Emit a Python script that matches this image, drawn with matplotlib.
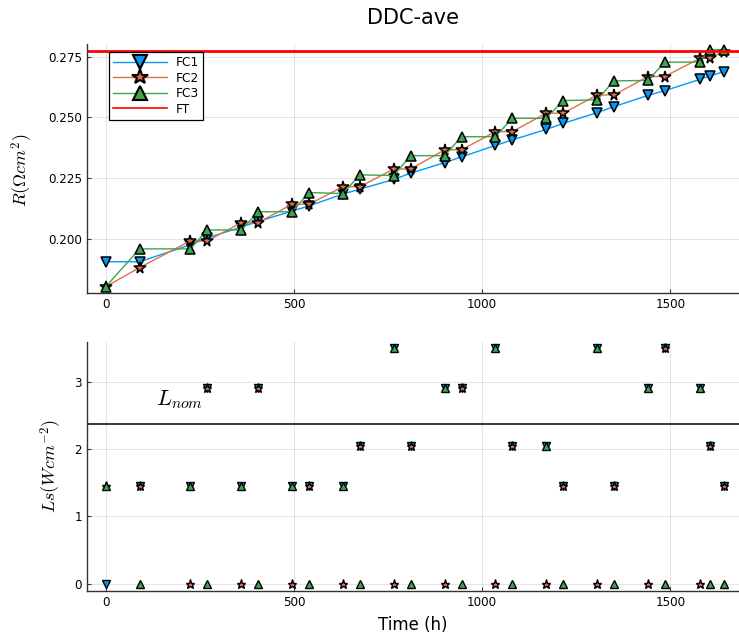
import matplotlib
# headless backend
matplotlib.use('Agg')
import matplotlib.pyplot as plt
from matplotlib.lines import Line2D

plt.rcParams['font.family'] = ['DejaVu Sans']
plt.rcParams['mathtext.fontset'] = 'cm'

# sample times (h)
times = [0, 90, 225, 270, 360, 405, 495, 540, 630, 675, 765, 810, 900, 945,
         1035, 1080, 1170, 1215, 1305, 1350, 1440, 1485, 1578, 1604, 1641]

# resistance R (Ohm cm^2)
r_fc1 = [0.1905, 0.1905, 0.1975, 0.2003, 0.2048, 0.2071, 0.2114, 0.2135, 0.2184,
         0.2204, 0.2244, 0.2270, 0.2313, 0.2337, 0.2384, 0.2407, 0.2450, 0.2475,
         0.2519, 0.2544, 0.2590, 0.2610, 0.2656, 0.2670, 0.2688]
r_fc2 = [0.1802, 0.1881, 0.1991, 0.1991, 0.2066, 0.2066, 0.2142, 0.2142, 0.2214,
         0.2214, 0.2287, 0.2287, 0.2366, 0.2366, 0.2441, 0.2441, 0.2517, 0.2517,
         0.2592, 0.2592, 0.2668, 0.2668, 0.2743, 0.2743, 0.2771]
r_fc3 = [0.1802, 0.1958, 0.1958, 0.2036, 0.2036, 0.2111, 0.2111, 0.2190, 0.2186,
         0.2263, 0.2260, 0.2342, 0.2342, 0.2420, 0.2420, 0.2496, 0.2496, 0.2569,
         0.2572, 0.2650, 0.2652, 0.2727, 0.2728, 0.2778, 0.2778]
r_ft = 0.2775

# load Ls (W cm^-2)
ls_fc1 = [0, 1.45, 1.45, 2.9, 1.45, 2.9, 1.45, 1.45, 1.45, 2.05, 3.5, 2.05, 2.9,
          2.9, 3.5, 2.05, 2.05, 1.45, 3.5, 1.45, 2.9, 3.5, 2.9, 2.05, 1.45]
ls_fc2 = [1.45, 1.45, 0, 2.9, 0, 2.9, 0, 1.45, 0, 2.05, 0, 2.05, 0, 2.9, 0, 2.05,
          0, 1.45, 0, 1.45, 0, 3.5, 0, 2.05, 1.45]
ls_fc3 = [1.45, 0, 1.45, 0, 1.45, 0, 1.45, 0, 1.45, 0, 3.5, 0, 2.9, 0, 3.5, 0,
          2.05, 0, 3.5, 0, 2.9, 0, 2.9, 0, 0]
l_nom = 2.378

series_names = ['FC1', 'FC2', 'FC3']
colors = ['#009AFA', '#E36F47', '#3EA44E']
markers = ['v', '*', '^']
top_ms = [7.5, 8.5, 7.5]
bot_ms = [5.5, 6.5, 5.5]

W, H = 739, 639
fig = plt.figure(figsize=(W / 100, H / 100), dpi=100)
ax1 = fig.add_axes([87 / W, 1 - 293.3 / H, 652 / W, 249.3 / H])
ax2 = fig.add_axes([87 / W, 1 - 590.7 / H, 652 / W, 249 / H])


def style_axis(ax):
    for side in ['top', 'right']:
        ax.spines[side].set_visible(False)
    for side in ['left', 'bottom']:
        ax.spines[side].set_linewidth(1.0)
        ax.spines[side].set_color('#333333')
    ax.grid(True, color='black', alpha=0.1, linewidth=0.8)
    ax.set_axisbelow(True)
    ax.tick_params(direction='in', length=3, width=0.8, labelsize=8.6,
                   colors='#333333', labelcolor='black')
    ax.set_xlim(-49.7, 1682)
    ax.set_xticks([0, 500, 1000, 1500])


# --- top: resistance ---
for vals, c, m, ms in zip([r_fc1, r_fc2, r_fc3], colors, markers, top_ms):
    ax1.plot(times, vals, color=c, lw=1.0, marker=m, ms=ms,
             markeredgecolor='black', markeredgewidth=1.1)
ax1.axhline(r_ft, color='red', lw=2.0)
style_axis(ax1)
ax1.set_ylim(0.1775, 0.2802)
ax1.set_yticks([0.200, 0.225, 0.250, 0.275])
ax1.set_yticklabels(['0.200', '0.225', '0.250', '0.275'])

handles = [Line2D([], [], color=c, lw=1.0, marker=m, ms=ms * 1.35,
                  markeredgecolor='black', markeredgewidth=1.5)
           for c, m, ms in zip(colors, markers, top_ms)]
handles.append(Line2D([], [], color='red', lw=1.2))
leg = ax1.legend(handles, series_names + ['FT'], loc='upper left',
                 bbox_to_anchor=(0.034, 0.968), borderaxespad=0,
                 fontsize=8.8, fancybox=False, framealpha=1,
                 edgecolor='black', handlelength=4.4, handletextpad=0.7,
                 labelspacing=0.2, borderpad=0.35)
leg.get_frame().set_linewidth(0.9)

# --- bottom: load ---
for vals, c, m, ms in zip([ls_fc1, ls_fc2, ls_fc3], colors, markers, bot_ms):
    ax2.plot(times, vals, ls='none', color=c, marker=m, ms=ms,
             markeredgecolor='black', markeredgewidth=1.0)
ax2.axhline(l_nom, color='black', lw=1.1)
ax2.text(197, 2.73, r'$L_{nom}$', fontsize=16, ha='center', va='center')
style_axis(ax2)
ax2.set_ylim(-0.105, 3.595)
ax2.set_yticks([0, 1, 2, 3])

# titles and labels
fig.text(413 / W, 1 - 18 / H, 'DDC-ave', fontsize=15, ha='center', va='center')
fig.text(413 / W, 1 - 625 / H, 'Time (h)', fontsize=12, ha='center', va='center')
fig.text(22 / W, 1 - 170 / H, r'$R(\Omega cm^2)$', fontsize=13, rotation=90,
         ha='center', va='center')
fig.text(51 / W, 1 - 466 / H, r'$Ls(W cm^{-2})$', fontsize=13, rotation=90,
         ha='center', va='center')

fig.savefig('out.png', dpi=100)
plt.close(fig)
